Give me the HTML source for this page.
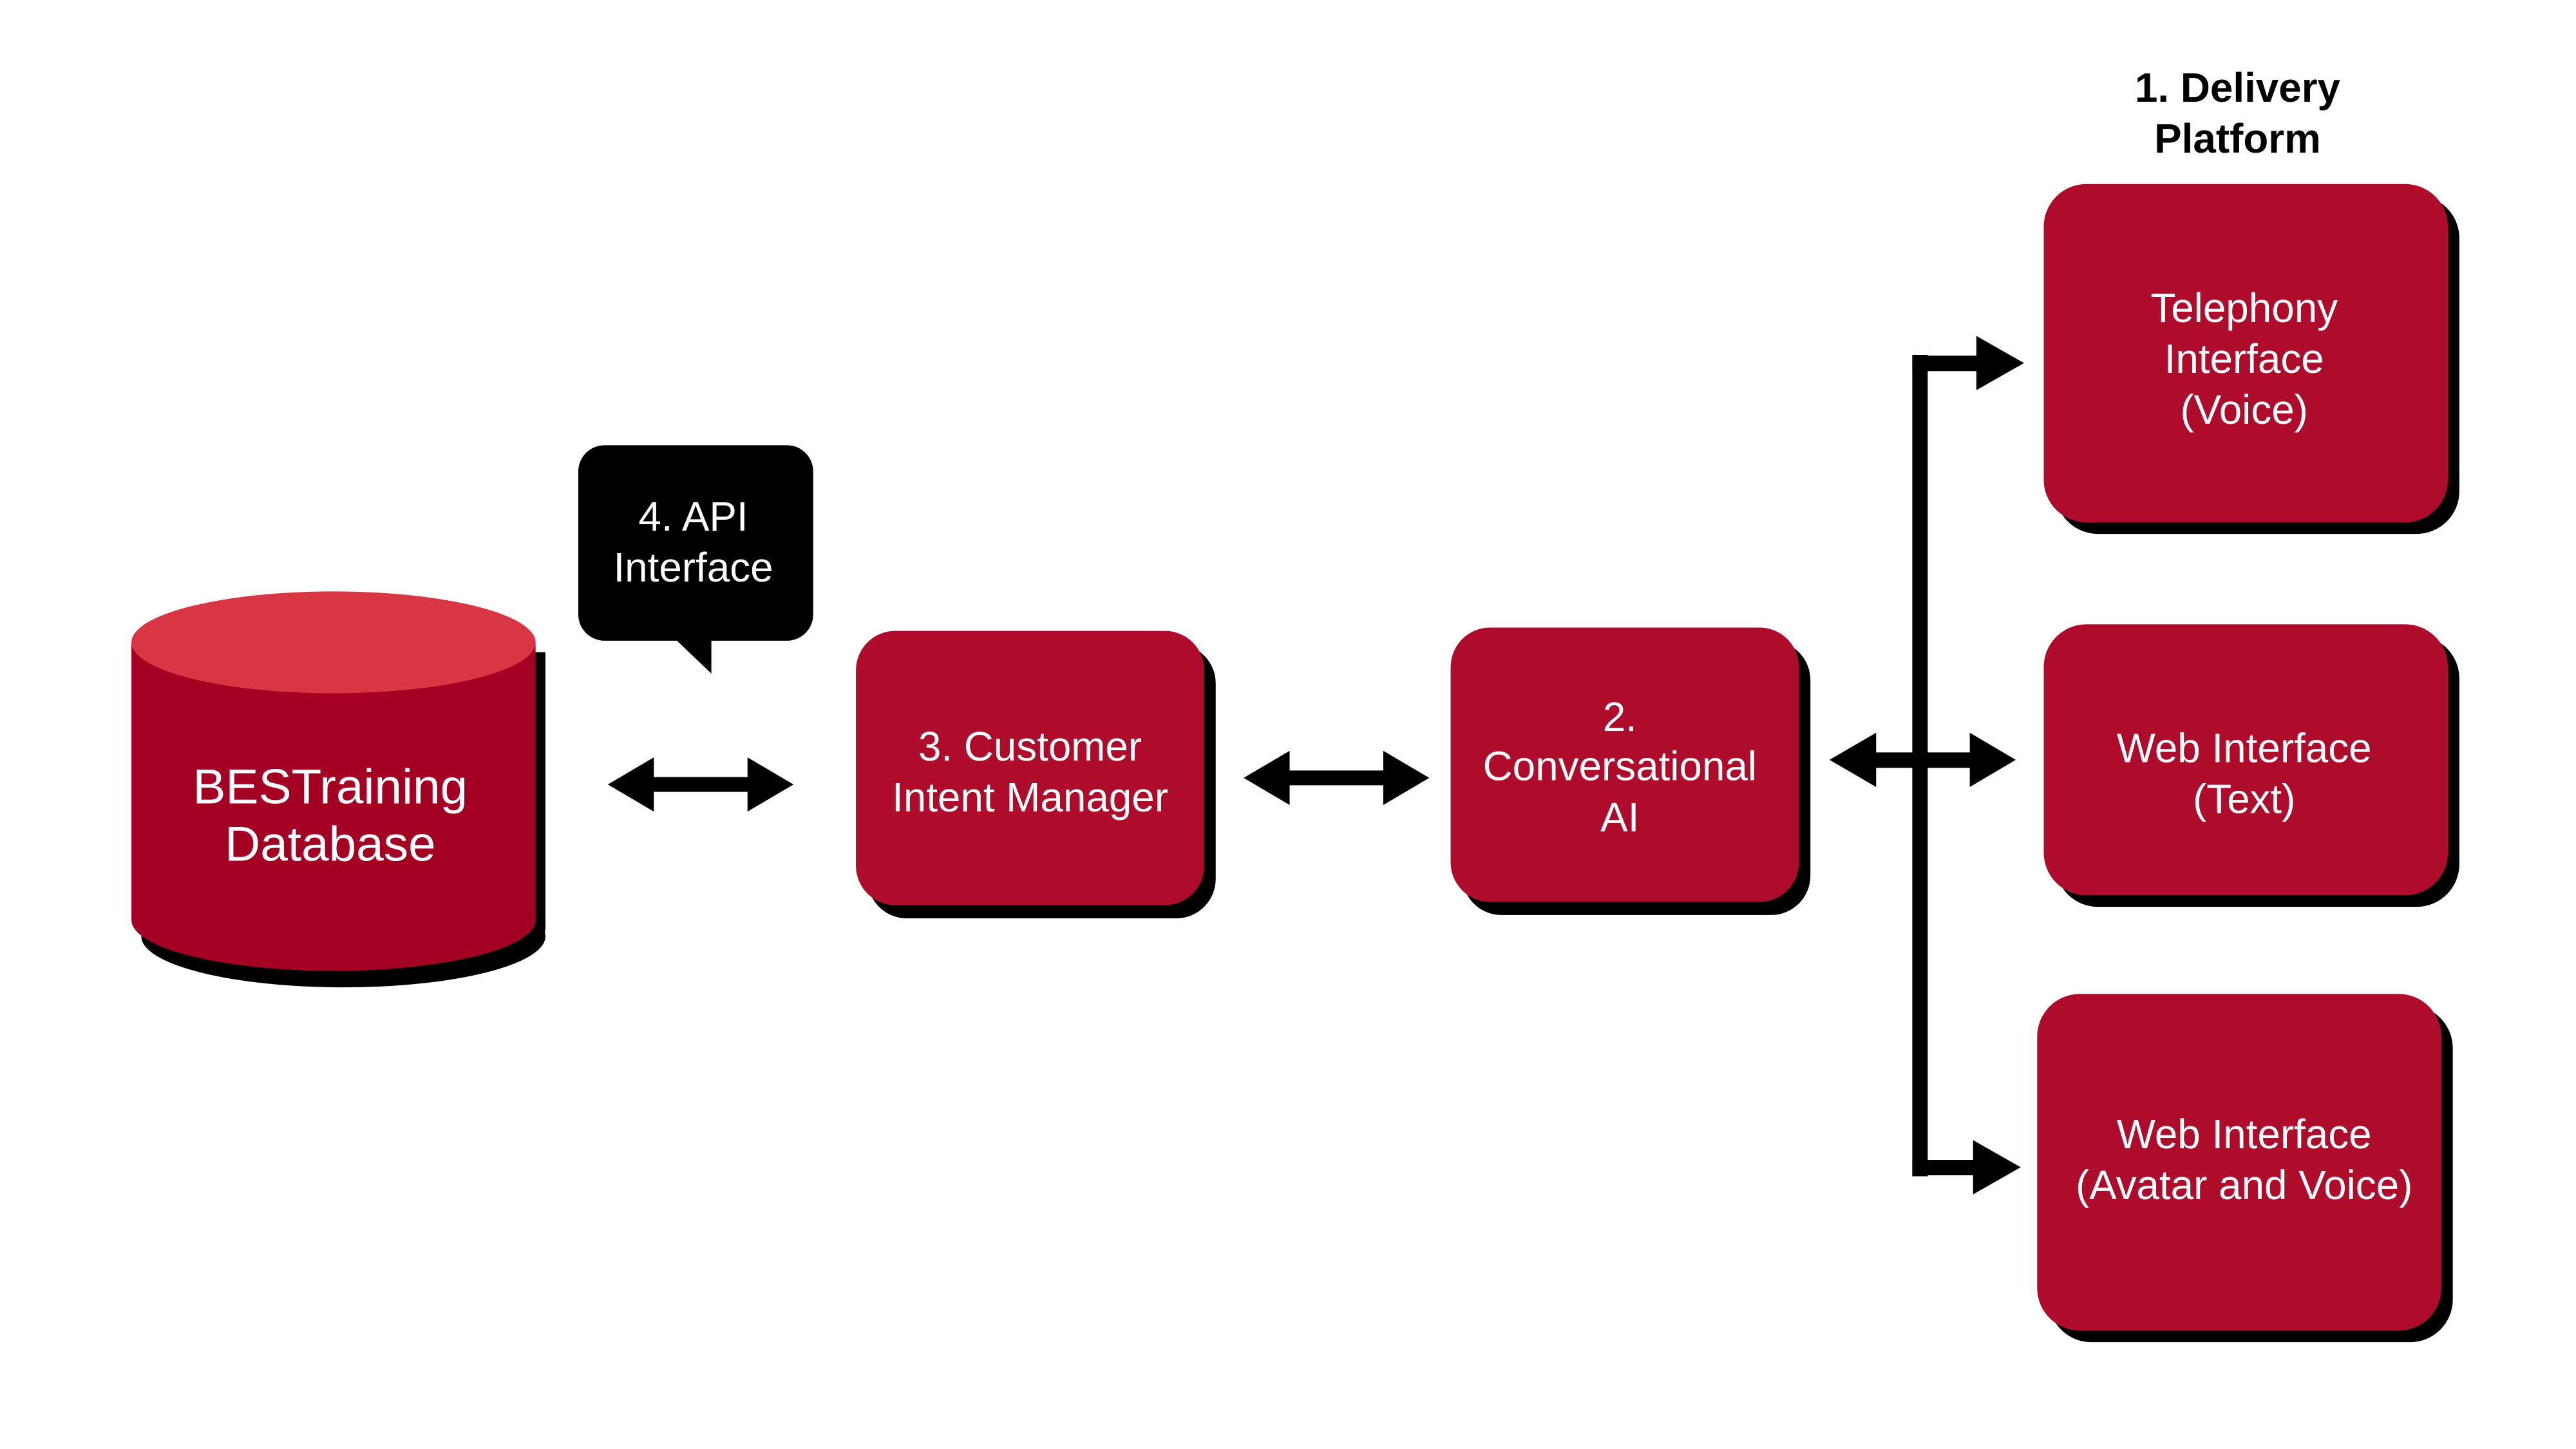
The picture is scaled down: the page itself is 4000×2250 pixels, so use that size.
<!DOCTYPE html>
<html><head><meta charset="utf-8"><style>
html,body{margin:0;padding:0;background:#fff;}
svg{display:block;}
text{font-family:"Liberation Sans",sans-serif;fill:#fff;text-anchor:middle;}
</style></head><body>
<svg width="4000" height="2250" viewBox="0 0 1568 882" xmlns="http://www.w3.org/2000/svg">
<!-- Cylinder -->
<g>
<path d="M86,397 L86,565 A123,31 0 0 0 332,565 L332,397 Z" fill="#000"/>
<ellipse cx="209" cy="570" rx="123" ry="31" fill="#000"/>
<path d="M80,391 L80,560 A123,31 0 0 0 326,560 L326,391 Z" fill="#A30024"/>
<ellipse cx="203" cy="391" rx="123" ry="31" fill="#D73642"/>
<text x="201" y="489" font-size="30">BESTraining</text>
<text x="201" y="524" font-size="30">Database</text>
</g>
<!-- API bubble -->
<rect x="352" y="271" width="143" height="119" rx="16" fill="#000"/>
<polygon points="411,389 433,389 433,410" fill="#000"/>
<text x="422" y="323" font-size="25">4. API</text>
<text x="422" y="354" font-size="25">Interface</text>
<!-- Boxes with shadows -->
<g>
<rect x="528" y="392" width="212" height="167" rx="24" fill="#000"/>
<rect x="521" y="384" width="212" height="167" rx="24" fill="#AF0B2B"/>
<text x="627" y="463" font-size="25">3. Customer</text>
<text x="627" y="494" font-size="25">Intent Manager</text>

<rect x="890" y="390" width="212" height="167" rx="24" fill="#000"/>
<rect x="883" y="382" width="212" height="167" rx="24" fill="#AF0B2B"/>
<text x="986" y="445" font-size="25">2.</text>
<text x="986" y="475" font-size="25">Conversational</text>
<text x="986" y="506" font-size="25">AI</text>

<rect x="1251" y="119" width="246" height="206" rx="26" fill="#000"/>
<rect x="1244" y="112" width="246" height="206" rx="26" fill="#AF0B2B"/>
<text x="1366" y="196" font-size="25">Telephony</text>
<text x="1366" y="227" font-size="25">Interface</text>
<text x="1366" y="258" font-size="25">(Voice)</text>

<rect x="1251" y="387" width="246" height="165" rx="26" fill="#000"/>
<rect x="1244" y="380" width="246" height="165" rx="26" fill="#AF0B2B"/>
<text x="1366" y="464" font-size="25">Web Interface</text>
<text x="1366" y="495" font-size="25">(Text)</text>

<rect x="1247" y="612" width="246" height="205" rx="26" fill="#000"/>
<rect x="1240" y="605" width="246" height="205" rx="26" fill="#AF0B2B"/>
<text x="1366" y="699" font-size="25">Web Interface</text>
<text x="1366" y="730" font-size="25">(Avatar and Voice)</text>
</g>
<!-- Title -->
<text x="1362" y="62" font-size="25" font-weight="bold" style="fill:#000">1. Delivery</text>
<text x="1362" y="93" font-size="25" font-weight="bold" style="fill:#000">Platform</text>
<!-- Arrows -->
<g fill="#000">
<rect x="395" y="473" width="65" height="9"/>
<polygon points="370,477.5 398,461 398,494"/>
<polygon points="483,477.5 455,461 455,494"/>
<rect x="782" y="469" width="65" height="9"/>
<polygon points="757,473.5 785,457 785,490"/>
<polygon points="870,473.5 842,457 842,490"/>
<!-- bus -->
<rect x="1164" y="216" width="9.4" height="500"/>
<rect x="1140" y="458" width="62" height="9.4"/>
<polygon points="1113.6,462.5 1142,446 1142,479"/>
<polygon points="1227,462.5 1199,446 1199,479"/>
<rect x="1164" y="216.5" width="42" height="9.4"/>
<polygon points="1232,221 1203,204.5 1203,237.5"/>
<rect x="1164" y="706" width="42" height="9.4"/>
<polygon points="1230,710.5 1201,694 1201,727"/>
</g>
</svg>
</body></html>
